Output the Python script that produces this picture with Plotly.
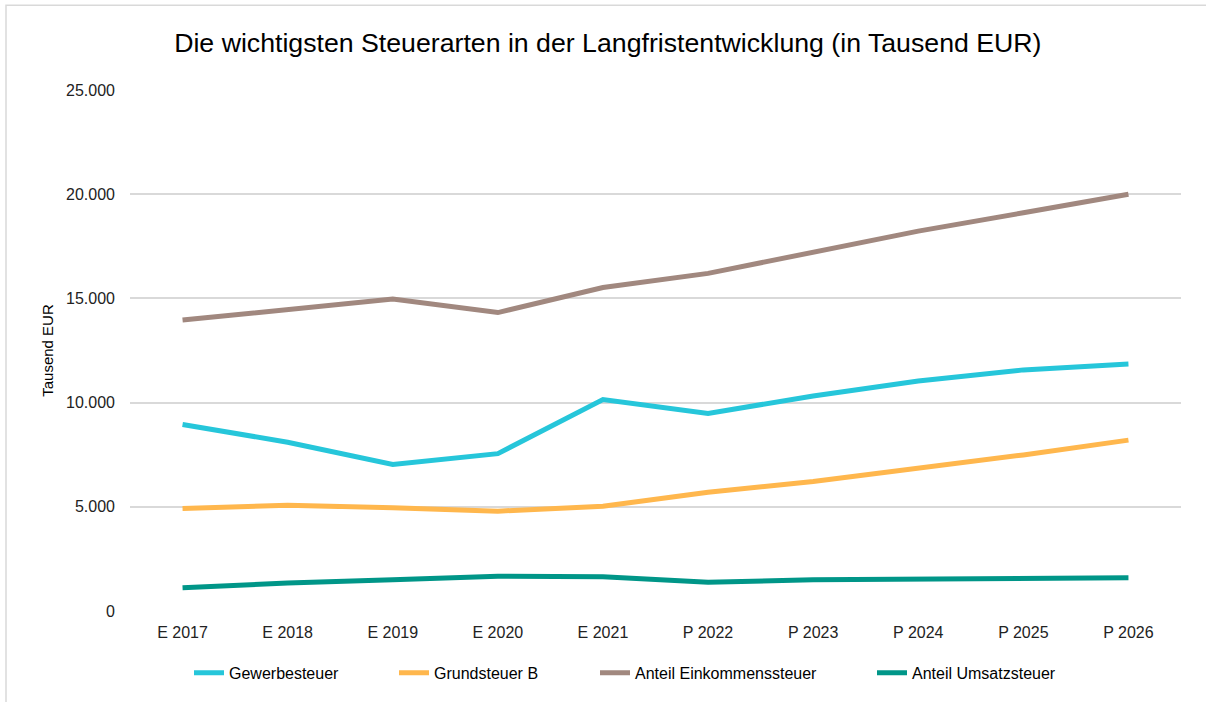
import plotly.graph_objects as go

# Jahre (E = Ergebnis, P = Planung)
years = ["E 2017", "E 2018", "E 2019", "E 2020", "E 2021",
         "P 2022", "P 2023", "P 2024", "P 2025", "P 2026"]

# Werte in Tausend EUR
gewerbesteuer = [8950, 8100, 7030, 7550, 10150, 9480, 10320, 11040, 11570, 11850]
grundsteuer_b = [4920, 5080, 4950, 4790, 5030, 5700, 6210, 6850, 7490, 8200]
anteil_est = [13960, 14470, 14970, 14320, 15520, 16200, 17220, 18230, 19110, 20000]
anteil_ust = [1110, 1340, 1500, 1670, 1640, 1380, 1500, 1530, 1560, 1590]

series = [
    ("Gewerbesteuer", gewerbesteuer, "#26C6DA"),
    ("Grundsteuer B", grundsteuer_b, "#FFB74D"),
    ("Anteil Einkommenssteuer", anteil_est, "#A1887F"),
    ("Anteil Umsatzsteuer", anteil_ust, "#009688"),
]

FONT = "Liberation Sans, Arial, sans-serif"

# plot area in pixels (left, right, top, bottom)
PL, PR, PT, PB = 130, 1181, 90, 613
PW, PH = PR - PL, PB - PT

# where each legend entry's text starts (px)
legend_text_x = [229, 434, 635, 912]
LEGEND_Y = 675

fig = go.Figure()
for i, (name, vals, color) in enumerate(series):
    fig.add_trace(go.Scatter(
        x=years, y=vals, name=name, mode="lines",
        line=dict(color=color, width=5),
        showlegend=True,
        legend="legend" if i == 0 else f"legend{i + 1}",
    ))

legends = {}
for i, tx in enumerate(legend_text_x):
    key = "legend" if i == 0 else f"legend{i + 1}"
    legends[key] = dict(
        orientation="h",
        x=(tx - 40 - PL) / PW, xanchor="left",
        y=(PB - LEGEND_Y) / PH, yanchor="middle",
        font=dict(size=16, color="#000000"),
        bgcolor="rgba(0,0,0,0)",
    )

fig.update_layout(
    width=1206, height=702,
    showlegend=True,
    paper_bgcolor="white", plot_bgcolor="white",
    separators=",.",
    font=dict(family=FONT, color="#000000"),
    margin=dict(l=PL, r=1206 - PR, t=PT, b=702 - PB),
    title=dict(
        text="Die wichtigsten Steuerarten in der Langfristentwicklung (in Tausend EUR)",
        x=0.504, xanchor="center", xref="container",
        y=1 - 43 / 702, yanchor="middle", yref="container",
        font=dict(size=26.7, color="#000000"),
    ),
    xaxis=dict(
        type="category", range=[-0.5, 9.5],
        showgrid=False, showline=False, zeroline=False,
        tickfont=dict(size=16, color="#222222"),
        ticklabelstandoff=10,
    ),
    yaxis=dict(
        range=[0, 25000], dtick=5000, tickformat=",d",
        showgrid=True, gridcolor="#D9D9D9", gridwidth=1.5,
        zeroline=False, showline=False,
        tickfont=dict(size=16, color="#222222"),
        ticklabelstandoff=14,
        title=dict(text="Tausend EUR", font=dict(size=15, color="#000000"), standoff=8),
    ),
    shapes=[dict(
        type="rect", xref="paper", yref="paper",
        x0=(6 - PL) / PW, x1=1.2, y0=-0.3, y1=(PB - 5) / PH,
        line=dict(color="#D9D9D9", width=1.5), fillcolor="rgba(0,0,0,0)",
        layer="below",
    )],
    **legends,
)

# the page body has an 8px default margin; drop it so the chart sits at 0,0
fig.write_html(
    "out.html",
    config={"displayModeBar": False},
    post_script="document.body.style.margin='0';",
)
